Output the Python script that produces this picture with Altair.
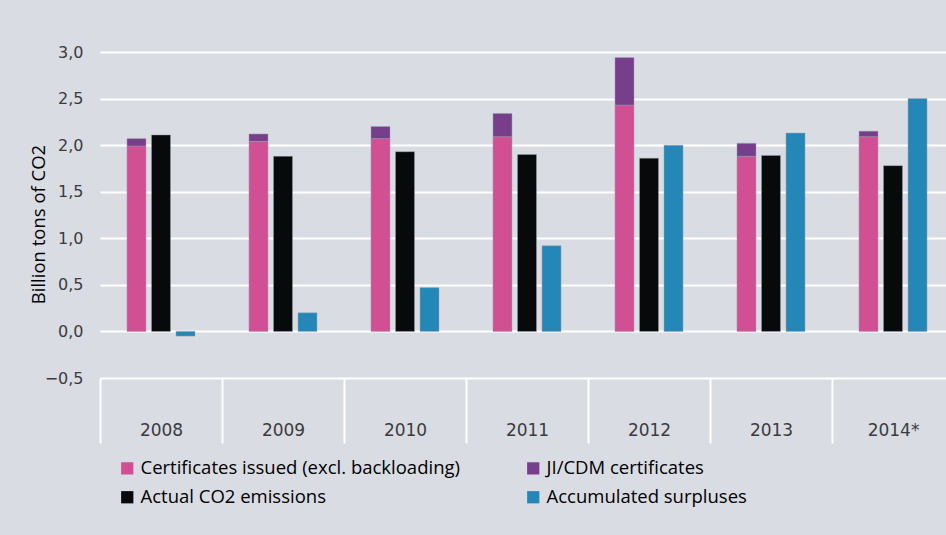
import altair as alt
import pandas as pd

# Yearly values, billion tons of CO2
years = ["2008", "2009", "2010", "2011", "2012", "2013", "2014*"]
issued = [1.99, 2.04, 2.07, 2.09, 2.43, 1.88, 2.09]
ji_cdm = [0.08, 0.08, 0.13, 0.25, 0.51, 0.14, 0.06]
emissions = [2.11, 1.88, 1.93, 1.90, 1.86, 1.89, 1.78]
surplus = [-0.05, 0.20, 0.47, 0.92, 2.00, 2.13, 2.50]

# Legend fills column by column: left column first, then right column
series_names = [
    "Certificates issued (excl. backloading)",
    "Actual CO2 emissions",
    "JI/CDM certificates",
    "Accumulated surpluses",
]
series_colors = ["#d15094", "#08090b", "#773f8b", "#2587b8"]
y_ticks = [-0.5, 0.0, 0.5, 1.0, 1.5, 2.0, 2.5, 3.0]

ISSUED, EMITTED, JICDM, SURPLUS = series_names

# Slot order inside each year band; the outer two stay empty as spacing
slots = ["pad_l", "a", "b", "c", "pad_r"]

# One row per drawn bar segment: issued + JI/CDM stack in slot "a"
rows = []
for i, yr in enumerate(years):
    rows.append({"year": yr, "slot": "a", "series": ISSUED, "lo": 0.0, "hi": issued[i]})
    rows.append({"year": yr, "slot": "a", "series": JICDM, "lo": issued[i], "hi": issued[i] + ji_cdm[i]})
    rows.append({"year": yr, "slot": "b", "series": EMITTED, "lo": 0.0, "hi": emissions[i]})
    rows.append({"year": yr, "slot": "c", "series": SURPLUS, "lo": 0.0, "hi": surplus[i]})
df = pd.DataFrame(rows)

label_gray = "#3b3b3b"

bars = alt.Chart(df).mark_bar(
    stroke="#9ea3ab", strokeWidth=0.8, strokeOpacity=0.6
).encode(
    x=alt.X(
        "year:N",
        sort=years,
        scale=alt.Scale(paddingInner=0, paddingOuter=0, range=[0, 854]),
        axis=alt.Axis(
            title=None,
            domain=False,
            ticks=True,
            tickBand="extent",
            tickSize=65,
            tickColor="white",
            tickWidth=2,
            labelFont="DejaVu Sans",
            labelFontSize=17,
            labelColor=label_gray,
            labelPadding=-21,
            labelAngle=0,
            grid=False,
        ),
    ),
    xOffset=alt.XOffset(
        "slot:N",
        scale=alt.Scale(domain=slots, paddingInner=0.224, paddingOuter=0.1),
    ),
    y=alt.Y(
        "lo:Q",
        scale=alt.Scale(domain=[-0.5, 3.0], nice=False, zero=False),
        axis=alt.Axis(
            values=y_ticks,
            labelExpr="replace(format(datum.value, '.1f'), '.', ',')",
            domain=False,
            ticks=False,
            grid=True,
            gridColor="white",
            gridWidth=2,
            labelFont="DejaVu Sans",
            labelFontSize=16,
            labelColor=label_gray,
            labelPadding=17,
            title="Billion tons of CO2",
            titleFont="Open Sans",
            titleFontSize=18.5,
            titleFontWeight="normal",
            titleColor="black",
            titleAngle=270,
            titleX=-62,
            titleY=172,
            titleAlign="center",
            titleBaseline="middle",
        ),
    ),
    y2="hi:Q",
    color=alt.Color(
        "series:N",
        sort=series_names,
        scale=alt.Scale(domain=series_names, range=series_colors),
        legend=alt.Legend(
            title=None,
            orient="none",
            legendX=18,
            legendY=407,
            columns=2,
            columnPadding=64,
            rowPadding=10,
            symbolType="square",
            symbolSize=150,
            symbolStrokeWidth=0,
            symbolOpacity=1,
            labelFont="Open Sans",
            labelFontSize=18.5,
            labelColor="black",
            labelLimit=0,
        ),
    ),
)

chart = bars.properties(
    width=846,
    height=326,
    autosize=alt.AutoSizeParams(type="none"),
    padding={"left": 100, "top": 52, "right": 0, "bottom": 157},
    background="#d9dce3",
).configure_view(strokeWidth=0)

chart.save("out.html", embed_options={"renderer": "svg", "actions": False})
